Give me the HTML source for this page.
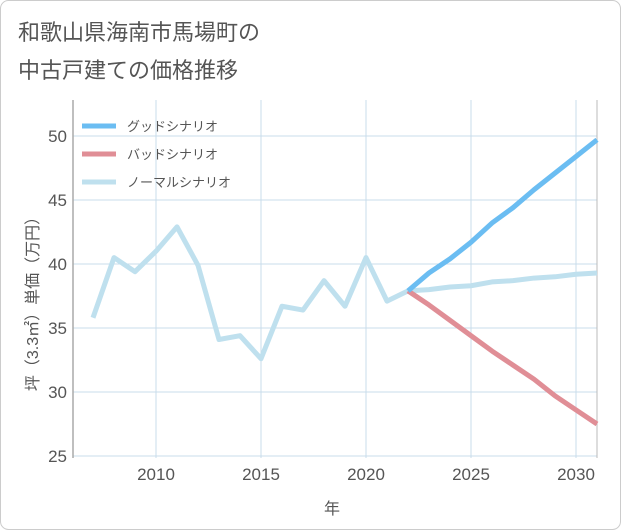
<!DOCTYPE html>
<html><head><meta charset="utf-8"><style>
body{margin:0;background:#fff;}
svg{display:block;font-family:"Liberation Sans","Noto Sans CJK JP",sans-serif;}
</style></head><body>
<svg id="c" width="621" height="530" viewBox="0 0 621 530">
<rect x="0.5" y="0.5" width="620" height="529" rx="8" fill="#fff" stroke="#ccc"/>
<text x="18" y="40" font-size="22" fill="#555">和歌山県海南市馬場町の</text>
<text x="18" y="78" font-size="22" fill="#555">中古戸建ての価格推移</text>
<g id="grid"></g>
<g id="series"></g>
<g id="legend"></g>
<text x="332" y="514" font-size="16" fill="#555" text-anchor="middle">年</text>
<text transform="translate(38,300) rotate(-90)" font-size="16" fill="#555" text-anchor="middle">坪（3.3㎡）単価（万円）</text>
</svg>
<script>
const years=[2007,2008,2009,2010,2011,2012,2013,2014,2015,2016,2017,2018,2019,2020,2021,2022,2023,2024,2025,2026,2027,2028,2029,2030,2031];
const normalVals=[35.8,40.5,39.4,41,42.9,39.9,34.1,34.4,32.6,36.7,36.4,38.7,36.7,40.5,37.1,37.9,38.0,38.2,38.3,38.6,38.7,38.9,39.0,39.2,39.3];
const futureYears=[2022,2023,2024,2025,2026,2027,2028,2029,2030,2031];
const goodVals=[37.9,39.3,40.4,41.7,43.2,44.4,45.8,47.1,48.4,49.7];
const badVals=[37.9,36.8,35.6,34.4,33.2,32.1,31.0,29.7,28.6,27.5];
const xTicks=[2010,2015,2020,2025,2030];
const yTicks=[25,30,35,40,45,50];
const NS="http://www.w3.org/2000/svg";
const L=73,R=597,T=100,B=458;
const X=y=>156+(y-2010)*21;
const Y=v=>456-(v-25)*12.8;
function mk(t,a,p){const e=document.createElementNS(NS,t);for(const k in a)e.setAttribute(k,a[k]);p.appendChild(e);return e;}
const g=document.getElementById('grid');
for(const v of yTicks){
 const l=mk('line',{x1:L,x2:R,y1:Y(v),y2:Y(v),stroke:'#c8dceb','stroke-width':1},g);
 
 
 const t=mk('text',{x:L-6,y:Y(v)+6,'font-size':17,fill:'#555','text-anchor':'end'},g);t.textContent=v;
 
 
}
for(const v of xTicks){
 const l=mk('line',{x1:X(v),x2:X(v),y1:T,y2:B,stroke:'#c8dceb','stroke-width':1},g);
 
 
 const t=mk('text',{x:X(v),y:B+22,'font-size':17,fill:'#555','text-anchor':'middle'},g);t.textContent=v;
 
 
}
const ax=mk('line',{x1:L,x2:L,y1:T,y2:B,stroke:'#aaa','stroke-width':1.5},g);


const ax2=mk('line',{x1:R,x2:R,y1:T,y2:B,stroke:'#bbb','stroke-width':1},g);


const s=document.getElementById('series');
function line(xs,vs,c,n){
 const p=mk('polyline',{points:xs.map((y,i)=>X(y)+','+Y(vs[i])).join(' '),fill:'none',stroke:c,'stroke-width':5,'stroke-linejoin':'round'},s);
 
 
}
line(years,normalVals,'#bfe0ee','normal-scenario-line');
line(futureYears,badVals,'#e08e96','bad-scenario-line');
line(futureYears,goodVals,'#6bbdf2','good-scenario-line');
const lg=document.getElementById('legend');
[['グッドシナリオ','#6bbdf2','legend-good'],['バッドシナリオ','#e08e96','legend-bad'],['ノーマルシナリオ','#bfe0ee','legend-normal']].forEach((d,i)=>{
 const y=126+i*28;
 const gi=mk('g',{},lg);
 
 
 mk('line',{x1:82,x2:116,y1:y,y2:y,stroke:d[1],'stroke-width':5},gi);
 const t=mk('text',{x:127,y:y+5,'font-size':13,fill:'#555'},gi);t.textContent=d[0];
});
</script>
</body></html>
